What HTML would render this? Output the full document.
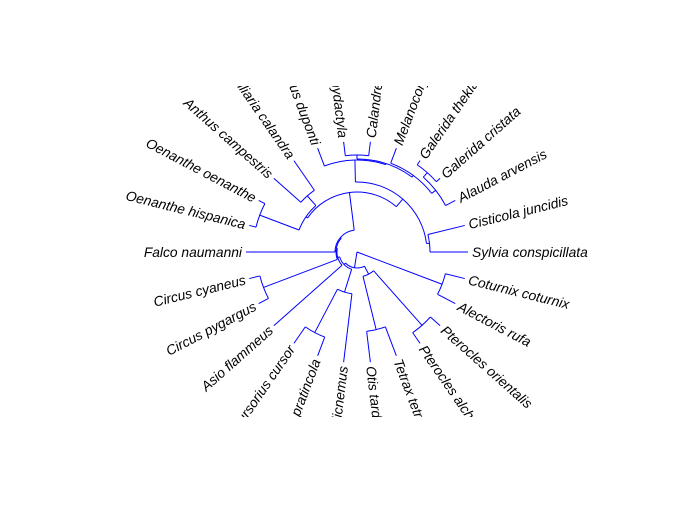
<!DOCTYPE html>
<html><head><meta charset="utf-8"><title>Fan phylogeny</title>
<style>html,body{margin:0;padding:0;background:#fff;}svg{display:block;}</style></head>
<body>
<svg id="tree" width="675" height="527" viewBox="0 0 675 527" xmlns="http://www.w3.org/2000/svg">
<defs><clipPath id="plotclip"><rect x="0" y="86" width="675" height="331"/></clipPath></defs>
<rect x="0" y="0" width="675" height="527" fill="#fff"/>
<g id="branches" fill="none" stroke="#0000ff" stroke-width="1"></g>
<g id="labels" clip-path="url(#plotclip)" font-family="'Liberation Sans', Arial, sans-serif" font-style="italic" font-size="13.8" fill="#000"></g>
</svg>
<script>
const tipNames = ["Sylvia conspicillata","Cisticola juncidis","Alauda arvensis","Galerida cristata","Galerida theklae","Melanocorypha calandra","Calandrella rufescens","Calandrella brachydactyla","Chersophilus duponti","Miliaria calandra","Anthus campestris","Oenanthe oenanthe","Oenanthe hispanica","Falco naumanni","Circus cyaneus","Circus pygargus","Asio flammeus","Cursorius cursor","Glareola pratincola","Burhinus oedicnemus","Otis tarda","Tetrax tetrax","Pterocles alchata","Pterocles orientalis","Alectoris rufa","Coturnix coturnix"];
const tipDepth = [111,111,111,111,111,111,111,111,111,111,111,111,111,111,111,111,111,111,111,111,111,111,111,111,111,111];
const internalIds = ['root','N1','N2','N3','N4','N5','P','L','MA','Oen','R','CS','Lk','A','B','C','D','G','Cir','CH','GC','OP','Pt','OT','Gal'];
const internalDepth = [0,16,18,20,21,22,60,62,75,104,70,73,92,93,97,95,100,106,100,42,91,25,98,80,91];
const internalKids = [['N1','Gal'],['N2','OP'],['N3','CH'],['N4',16],['N5','Cir'],['P',13],['R','L'],['MA','Oen'],[9,10],[11,12],['CS','Lk'],[0,1],['A',8],['C','B'],[6,7],['D',5],[2,'G'],[3,4],[14,15],['GC',19],[17,18],['OT','Pt'],[22,23],[20,21],[24,25]];

const CX = 357, CY = 252, NS = 'http://www.w3.org/2000/svg';
const nTip = tipNames.length;
function tipAngle(i){ return i * 360 / nTip; }
function px(r,a){ return CX + r*Math.cos(a*Math.PI/180); }
function py(r,a){ return CY - r*Math.sin(a*Math.PI/180); }
const idx = {}; internalIds.forEach((id,i)=>idx[id]=i);
const angCache = {};
function angle(k){
  if (typeof k === 'number') return tipAngle(k);
  if (angCache[k] !== undefined) return angCache[k];
  const kids = internalKids[idx[k]];
  const a = (angle(kids[0]) + angle(kids[kids.length-1]))/2;
  angCache[k] = a; return a;
}
function depth(k){ return typeof k === 'number' ? tipDepth[k] : internalDepth[idx[k]]; }
const gB = document.getElementById('branches');
internalIds.forEach((id,i)=>{
  const r = internalDepth[i];
  const kids = internalKids[i];
  const angs = kids.map(angle);
  const a1 = Math.min(...angs), a2 = Math.max(...angs);
  if (r > 0) {
    const arc = document.createElementNS(NS,'path');
    const large = (a2-a1) > 180 ? 1 : 0;
    arc.setAttribute('d', `M${px(r,a1)},${py(r,a1)} A${r},${r} 0 ${large} 0 ${px(r,a2)},${py(r,a2)}`);
    
    
    gB.appendChild(arc);
  }
  kids.forEach(k=>{
    const a = angle(k), r2 = depth(k);
    const ln = document.createElementNS(NS,'line');
    ln.setAttribute('x1', px(r,a)); ln.setAttribute('y1', py(r,a));
    ln.setAttribute('x2', px(r2,a)); ln.setAttribute('y2', py(r2,a));
    
    
    gB.appendChild(ln);
  });
});
const gL = document.getElementById('labels');
tipNames.forEach((nm,i)=>{
  const a = tipAngle(i), r = tipDepth[i] + 4;
  const t = document.createElementNS(NS,'text');
  const x = px(r,a), y = py(r,a);
  const left = a > 90 && a < 270;
  const rot = left ? -(a-180) : -a;
  t.setAttribute('x', x); t.setAttribute('y', y);
  t.setAttribute('dy', '0.35em');
  t.setAttribute('text-anchor', left ? 'end' : 'start');
  t.setAttribute('transform', `rotate(${rot} ${x} ${y})`);
  t.textContent = nm;
  
  
  gL.appendChild(t);
});
</script>
</body></html>
